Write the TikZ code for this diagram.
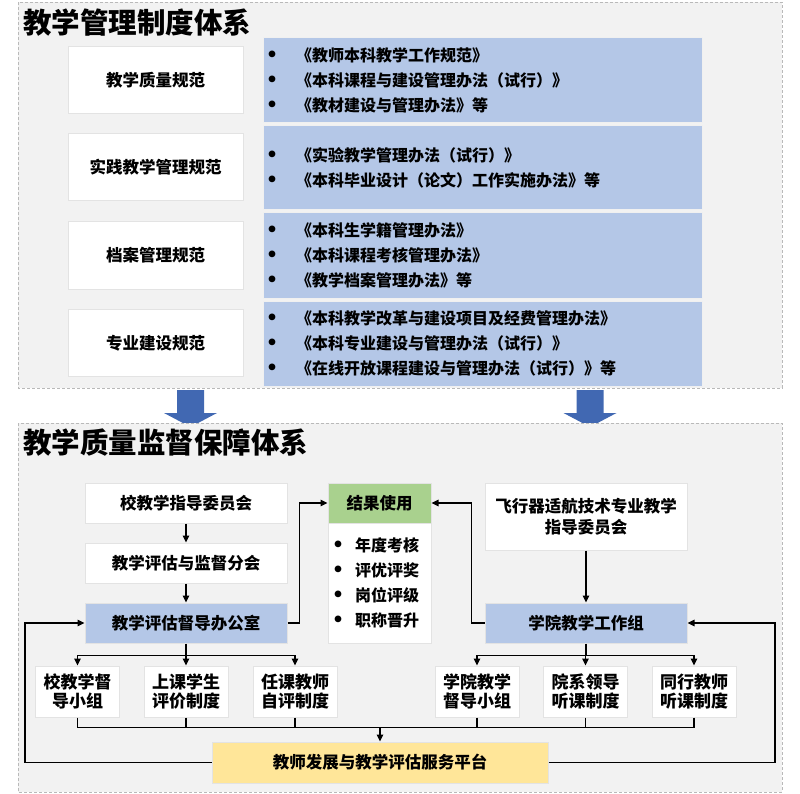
\documentclass[tikz,border=0pt]{standalone}
\usepackage{fontspec}
\setmainfont{Noto Sans CJK SC}
\usetikzlibrary{arrows.meta,calc}

\newcommand\bigdot{\makebox[0pt]{\raisebox{-0.17em}{\scalebox{1.5}{•}}}}
\newcommand\lawitem[1]{\makebox[27pt][l]{\hspace{3pt}\bigdot}#1}
\newcommand\useitem[1]{\makebox[22pt][l]{\hspace{5pt}\bigdot}#1}

\begin{document}
\begin{tikzpicture}[x=1pt,y=-1pt,
  panel/.style={fill=panelbg, draw=gray!55, densely dashed, line width=0.6pt},
  card/.style={draw=gray!22, line width=1pt, fill=white, align=center, inner sep=2pt,
               font=\fontsize{16.5}{21}\selectfont\bfseries},
  lawbox/.style={draw=gray!12, line width=1pt, fill=normblue, align=left, inner xsep=6pt,
                 text width=427pt, minimum height=85pt, font=\fontsize{16}{25}\selectfont\bfseries},
  smallcard/.style={card, minimum width=84pt, minimum height=51pt, font=\fontsize{17}{19.5}\selectfont\bfseries},
  flow/.style={-{Triangle[length=7pt,width=6.5pt]}, line width=1.1pt},
  link/.style={line width=1.1pt},
  heading/.style={anchor=west, inner sep=0pt, font=\fontsize{28.5}{30}\selectfont\bfseries}]
  \definecolor{panelbg}{HTML}{F2F2F2}
  \definecolor{normblue}{HTML}{B4C7E7}
  \definecolor{usegreen}{HTML}{A9D18E}
  \definecolor{platyellow}{HTML}{FFE699}
  \definecolor{arrowblue}{RGB}{65,104,178}

  \useasboundingbox (0,0) rectangle (800,794);

  %--- Upper panel: rules ---
  \draw[panel] (18,2) rectangle (782,388);
  \node[heading] (t1) at (23,23) {教学管理制度体系};

  \node[card, minimum width=175pt, minimum height=67pt] (r1) at (155.5,80.5)  {教学质量规范};
  \node[card, minimum width=175pt, minimum height=67pt] (r2) at (155.5,167.5) {实践教学管理规范};
  \node[card, minimum width=175pt, minimum height=67pt] (r3) at (155.5,255.5) {档案管理规范};
  \node[card, minimum width=175pt, minimum height=67pt] (r4) at (155.5,343)   {专业建设规范};

  \node[lawbox] (l1) at (482.5,80.5) {\lawitem{《教师本科教学工作规范》}\\
    \lawitem{《本科课程与建设管理办法（试行）》}\\ \lawitem{《教材建设与管理办法》等}};
  \node[lawbox, minimum height=84pt] (l2) at (482.5,168) {\lawitem{《实验教学管理办法（试行）》}\\
    \lawitem{《本科毕业设计（论文）工作实施办法》等}};
  \node[lawbox] (l3) at (482.5,255.5) {\lawitem{《本科生学籍管理办法》}\\
    \lawitem{《本科课程考核管理办法》}\\ \lawitem{《教学档案管理办法》等}};
  \node[lawbox] (l4) at (482.5,343.5) {\lawitem{《本科教学改革与建设项目及经费管理办法》}\\
    \lawitem{《本科专业建设与管理办法（试行）》}\\ \lawitem{《在线开放课程建设与管理办法（试行）》等}};

  %--- Block arrows between panels ---
  \foreach \ax in {190.5,590} {
    \fill[arrowblue] ({\ax-13.5},390) -- ({\ax+13.5},390) -- ({\ax+13.5},413) -- ({\ax+26.5},413)
      -- (\ax,427) -- ({\ax-26.5},413) -- ({\ax-13.5},413) -- cycle;
  }

  %--- Lower panel: supervision ---
  \draw[panel] (18,423) rectangle (782,792);
  \node[heading] (t2) at (23,443) {教学质量监督保障体系};

  \node[card, minimum width=202pt, minimum height=40pt] (jzw) at (186,503) {校教学指导委员会};
  \node[card, minimum width=202pt, minimum height=40pt] (pgf) at (186,563) {教学评估与监督分会};
  \node[card, fill=normblue, minimum width=202pt, minimum height=40pt] (dbs) at (186,623) {教学评估督导办公室};

  \node[card, fill=usegreen, minimum width=103pt, minimum height=40pt] (jgh) at (379.5,503) {结果使用};
  \node[card, align=left, inner xsep=5pt, text width=93pt, minimum height=120pt,
        font=\fontsize{16}{25}\selectfont\bfseries] (jgb) at (379.5,583)
       {\useitem{年度考核}\\ \useitem{评优评奖}\\ \useitem{岗位评级}\\ \useitem{职称晋升}};

  \node[card, minimum width=202pt, minimum height=67pt] (fxq) at (586,516.5) {飞行器适航技术专业教学\\指导委员会};
  \node[card, fill=normblue, minimum width=202pt, minimum height=40pt] (xyz) at (586,623) {学院教学工作组};

  \node[smallcard] (xd) at (77.5,691.5)  {校教学督\\导小组};
  \node[smallcard] (xs) at (186,691.5)   {上课学生\\评价制度};
  \node[smallcard] (xr) at (295,691.5)   {任课教师\\自评制度};
  \node[smallcard] (yd) at (477,691.5)   {学院教学\\督导小组};
  \node[smallcard] (yl) at (585.5,691.5) {院系领导\\听课制度};
  \node[smallcard] (yt) at (694,691.5)   {同行教师\\听课制度};

  \node[card, fill=platyellow, minimum width=336pt, minimum height=41pt] (plat) at (380,762.5) {教师发展与教学评估服务平台};

  %--- Connectors ---
  \draw[flow] (jzw) -- (pgf);
  \draw[flow] (pgf) -- (dbs);
  \draw[flow] (fxq) -- (xyz);
  \draw[flow] (dbs.east) -- ++(12,0) |- (jgh.west);
  \draw[flow] (xyz.west) -- ++(-13,0) |- (jgh.east);

  \coordinate (dsplit) at ($(dbs.south)+(0,12)$);
  \coordinate (ysplit) at ($(xyz.south)+(0,12)$);
  \draw[link] (dbs.south) -- (dsplit);
  \draw[link] (xyz.south) -- (ysplit);
  \foreach \n in {xd,xs,xr} \draw[flow] (dsplit) -| (\n.north);
  \foreach \n in {yd,yl,yt} \draw[flow] (ysplit) -| (\n.north);

  \coordinate (merge) at ($(plat.north)+(0,-14)$);
  \foreach \n in {xd,xs,xr,yd,yl,yt} \draw[link] (\n.south) |- (merge);
  \draw[flow] (merge) -- (plat.north);

  \coordinate (lback) at (25,623);
  \coordinate (rback) at (775,623);
  \draw[flow] (plat.west) -| (lback) -- (dbs.west);
  \draw[flow] (plat.east) -| (rback) -- (xyz.east);

\end{tikzpicture}
\end{document}
